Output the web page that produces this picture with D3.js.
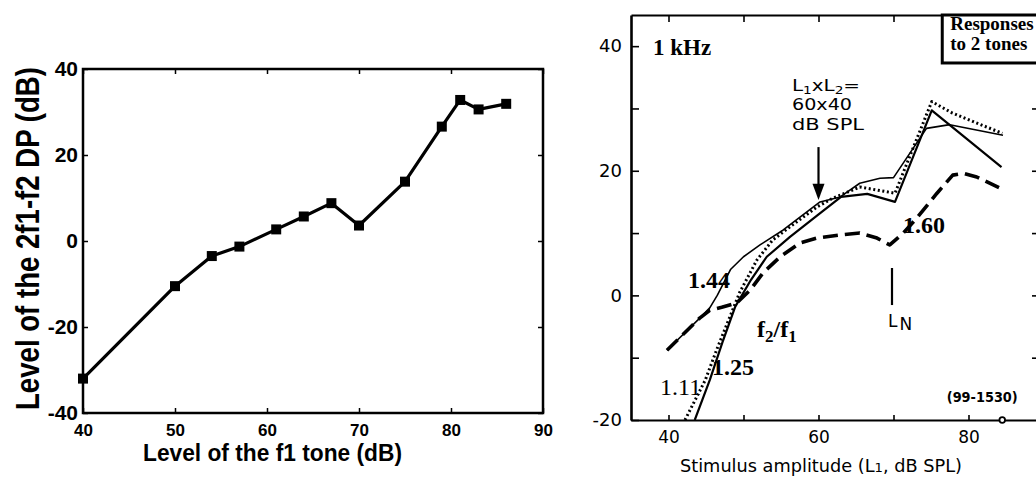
<!DOCTYPE html>
<html><head><meta charset="utf-8">
<script src="https://cdn.jsdelivr.net/npm/d3@7"></script>
<style>body{margin:0;background:#fff;} svg{display:block;}</style>
</head><body><svg id="c" width="1036" height="478"></svg>
<script>
// ---------- Left panel data ----------
const f1Level = [40, 50, 54, 57, 61, 64, 67, 70, 75, 79, 81, 83, 86];
const dpLevel = [-32, -10.5, -3.5, -1.3, 2.7, 5.7, 8.8, 3.6, 13.8, 26.6, 32.8, 30.6, 31.9];
const leftXTicks = [40, 50, 60, 70, 80, 90];
const leftYTicks = [-40, -20, 0, 20, 40];

// ---------- Right panel data (f2/f1 ratios) ----------
const r111X = [42.2, 44.9, 46.4, 48.2, 49.5, 51.8, 53.9, 56.2, 59.8, 61.9, 65.5, 70.2, 75.1, 77.8, 84.5];
const r111Y = [-20, -13.6, -8.8, -3.4, 0.5, 5.7, 8.9, 11.0, 14.2, 15.6, 17.4, 16.4, 31.1, 29.3, 26.0];
const r125X = [43.5, 45.5, 47.2, 48.9, 51.0, 53.1, 56.2, 59.8, 63.0, 66.5, 70.2, 75.1, 84.4];
const r125Y = [-20, -13.6, -7.5, -1.8, 2.5, 6.2, 9.4, 12.8, 15.8, 16.3, 15.0, 29.7, 20.6];
const r144X = [39.8, 44.2, 45.5, 46.5, 48.3, 50.0, 52.2, 55.3, 60.2, 62.9, 65.5, 68.2, 70.0, 74.4, 77.5, 84.6];
const r144Y = [-8.8, -3.6, -2.0, 0.0, 4.2, 6.2, 8.1, 10.5, 15.0, 15.8, 18.0, 18.8, 18.9, 26.8, 27.4, 25.7];
const r160X = [39.8, 44.2, 45.5, 47.1, 49.1, 50.9, 52.6, 54.9, 57.5, 59.8, 62.9, 65.5, 67.8, 69.5, 71.3, 73.1, 75.8, 77.9, 79.3, 81.1, 84.2];
const r160Y = [-8.8, -3.6, -2.4, -1.9, -1.2, 0.85, 3.6, 6.2, 8.4, 9.2, 9.7, 10.0, 9.2, 8.1, 10.0, 12.4, 16.4, 19.3, 19.6, 19.0, 17.2];
const rightXTicks = [40, 50, 60, 70, 80];
const rightXLabels = [40, 60, 80];
const rightYTicks = [-20, -10, 0, 10, 20, 30, 40];
const rightYLabels = [-20, 0, 20, 40];
const rightYRightTicks = [-10, 0, 10, 20, 30];

const svg = d3.select('#c');
const LS = "'Liberation Sans', Arial, sans-serif";
const DJ = "'DejaVu Sans', sans-serif";
const SER = "'Liberation Serif', 'Times New Roman', serif";
const plain = d => String(d); // hyphen-minus, as in the original

// ================= LEFT PANEL =================
const lx = d3.scaleLinear().domain([40, 90]).range([83, 543]);
const ly = d3.scaleLinear().domain([-40, 40]).range([413, 69]);
const L = svg.append('g');

function styleAxis(g, font, size, weight) {
  g.select('.domain').remove();
  g.selectAll('.tick line').attr('stroke', '#000').attr('stroke-width', 1.5);
  g.selectAll('.tick text').attr('fill', '#000').style('font-family', font)
    .style('font-size', size + 'px').style('font-weight', weight);
}

L.append('g').attr('transform', 'translate(0,413)')
  .call(d3.axisBottom(lx).tickValues(leftXTicks).tickSize(-5).tickPadding(11).tickFormat(plain))
  .call(g => styleAxis(g, LS, 17, 'bold'));
L.append('g').attr('transform', 'translate(0,69)')
  .call(d3.axisTop(lx).tickValues(leftXTicks).tickSize(-5).tickFormat(''))
  .call(g => styleAxis(g, LS, 17, 'bold'));
L.append('g').attr('transform', 'translate(83,0)')
  .call(d3.axisLeft(ly).tickValues(leftYTicks).tickSize(-5).tickPadding(5).tickFormat(plain))
  .call(g => styleAxis(g, LS, 21, 'bold'));
L.append('g').attr('transform', 'translate(543,0)')
  .call(d3.axisRight(ly).tickValues(leftYTicks).tickSize(-5).tickFormat(''))
  .call(g => styleAxis(g, LS, 17, 'bold'));
L.append('rect').attr('x', lx(40)).attr('y', ly(40))
  .attr('width', lx(90) - lx(40)).attr('height', ly(-40) - ly(40))
  .attr('fill', 'none').attr('stroke', '#000').attr('stroke-width', 2.5);

const leftPts = f1Level.map((x, i) => [x, dpLevel[i]]);
L.append('path').datum(leftPts)
  .attr('d', d3.line().x(d => lx(d[0])).y(d => ly(d[1])))
  .attr('fill', 'none').attr('stroke', '#000').attr('stroke-width', 3.2).attr('stroke-linejoin', 'round');
L.selectAll('rect.m').data(leftPts).join('rect').attr('class', 'm')
  .attr('x', d => lx(d[0]) - 5).attr('y', d => ly(d[1]) - 5)
  .attr('width', 10).attr('height', 10).attr('fill', '#000');

L.append('text').attr('x', 272.5).attr('y', 461).attr('text-anchor', 'middle')
  .style('font-family', LS).style('font-size', '23px').style('font-weight', 'bold')
  .attr('textLength', 259).attr('lengthAdjust', 'spacingAndGlyphs')
  .text('Level of the f1 tone (dB)');
L.append('text').attr('transform', 'translate(39,238.5) rotate(-90)').attr('text-anchor', 'middle')
  .style('font-family', LS).style('font-size', '33px').style('font-weight', 'bold')
  .attr('textLength', 343).attr('lengthAdjust', 'spacingAndGlyphs')
  .text('Level of the 2f1-f2 DP (dB)');

// ================= RIGHT PANEL =================
const rx = d3.scaleLinear().domain([35, 89.4]).range([631, 1039]);
const ry = d3.scaleLinear().domain([-20, 45]).range([420, 15]);
const R = svg.append('g');

R.append('clipPath').attr('id', 'rc').append('rect')
  .attr('x', rx(35)).attr('y', ry(45)).attr('width', rx(89.4) - rx(35)).attr('height', ry(-20) - ry(45));

function styleR(g, sw) {
  g.select('.domain').attr('stroke', '#000').attr('stroke-width', sw);
  g.selectAll('.tick line').attr('stroke', '#000').attr('stroke-width', 1.6);
  g.selectAll('.tick text').attr('fill', '#000').style('font-family', DJ).style('font-size', '17px');
}
R.append('g').attr('transform', `translate(0,${ry(-20)})`)
  .call(d3.axisBottom(rx).tickValues(rightXTicks).tickSize(-5).tickSizeOuter(0).tickPadding(11)
    .tickFormat(d => rightXLabels.includes(d) ? String(d) : ''))
  .call(g => styleR(g, 2));
R.append('g').attr('transform', `translate(0,${ry(45)})`)
  .call(d3.axisTop(rx).tickValues(rightXTicks).tickSize(-7).tickSizeOuter(0).tickFormat(''))
  .call(g => styleR(g, 2));
R.append('g').attr('transform', `translate(${rx(35)},0)`)
  .call(d3.axisLeft(ry).tickValues(rightYTicks).tickSize(-8).tickSizeOuter(0).tickPadding(9)
    .tickFormat(d => rightYLabels.includes(d) ? String(d) : ''))
  .call(g => { styleR(g, 2.6); g.selectAll('.tick text').style('font-size', '18px'); });
R.append('g').attr('transform', `translate(${rx(89.4)},0)`)
  .call(d3.axisRight(ry).tickValues(rightYRightTicks).tickSize(-7).tickSizeOuter(0).tickFormat(''))
  .call(g => styleR(g, 2));

const rline = d3.line().x(d => rx(d[0])).y(d => ry(d[1]));
const zipXY = (xs, ys) => xs.map((x, i) => [x, ys[i]]);
const curves = [
  { pts: zipXY(r144X, r144Y), w: 1.6, dash: null },
  { pts: zipXY(r125X, r125Y), w: 2.2, dash: null },
  { pts: zipXY(r111X, r111Y), w: 3, dash: '2 2.6' },
  { pts: zipXY(r160X, r160Y), w: 3.6, dash: '15 7' }
];
const cg = R.append('g').attr('clip-path', 'url(#rc)');
curves.forEach(c => {
  cg.append('path').datum(c.pts).attr('d', rline)
    .attr('fill', 'none').attr('stroke', '#000').attr('stroke-width', c.w)
    .attr('stroke-dasharray', c.dash).attr('stroke-linejoin', 'round');
});

// small marker at axis end
R.append('circle').attr('cx', rx(84.5)).attr('cy', ry(-20)).attr('r', 2.8)
  .attr('fill', '#fff').attr('stroke', '#000').attr('stroke-width', 1.8);

// Box "Responses to 2 tones"
const bx0 = 76.5, byTop = 45, byBot = 37.3;
R.append('rect').attr('x', rx(bx0)).attr('y', ry(byTop)).attr('width', 120)
  .attr('height', ry(byBot) - ry(byTop)).attr('fill', '#fff').attr('stroke', '#000').attr('stroke-width', 3);
R.append('text').attr('x', rx(bx0) + 8).attr('y', ry(byTop) + 15)
  .style('font-family', SER).style('font-size', '19px').style('font-weight', 'bold').text('Responses');
R.append('text').attr('x', rx(bx0) + 8).attr('y', ry(byTop) + 35)
  .style('font-family', SER).style('font-size', '19px').style('font-weight', 'bold').text('to 2 tones');

// 1 kHz
R.append('text').attr('x', rx(37.93)).attr('y', ry(38.6))
  .style('font-family', SER).style('font-size', '23px').style('font-weight', 'bold').text('1 kHz');

// L1xL2= annotation
const an = R.append('g').style('font-family', DJ).style('font-size', '16px');
const t1 = an.append('text').attr('x', rx(56.47)).attr('y', ry(32.8))
  .attr('textLength', 68).attr('lengthAdjust', 'spacingAndGlyphs');
t1.append('tspan').text('L');
t1.append('tspan').attr('dy', 3).style('font-size', '11px').text('1');
t1.append('tspan').attr('dy', -3).text('xL');
t1.append('tspan').attr('dy', 3).style('font-size', '11px').text('2');
t1.append('tspan').attr('dy', -3).text('=');
an.append('text').attr('x', rx(56.47)).attr('y', ry(29.7))
  .attr('textLength', 60).attr('lengthAdjust', 'spacingAndGlyphs').text('60x40');
an.append('text').attr('x', rx(56.47)).attr('y', ry(26.5))
  .attr('textLength', 72).attr('lengthAdjust', 'spacingAndGlyphs').text('dB SPL');

// Arrow to 60 dB
R.append('line').attr('x1', rx(60)).attr('x2', rx(60)).attr('y1', ry(23.8)).attr('y2', ry(17.5))
  .attr('stroke', '#000').attr('stroke-width', 2.2);
R.append('path').attr('d', `M${rx(60) - 6},${ry(17.9)} L${rx(60) + 6},${ry(17.9)} L${rx(60)},${ry(15.3)} Z`)
  .attr('fill', '#000');

// ratio labels
const ratioLabels = [
  { t: '1.44', x: 42.6, y: 1.2, w: 'bold' },
  { t: '1.11', x: 38.87, y: -16.0, w: 'normal' },
  { t: '1.25', x: 45.8, y: -12.8, w: 'bold' },
  { t: '1.60', x: 71.27, y: 10.0, w: 'bold' }
];
R.selectAll('text.rl').data(ratioLabels).join('text').attr('class', 'rl')
  .attr('x', d => rx(d.x)).attr('y', d => ry(d.y))
  .style('font-family', SER).style('font-size', '24px').style('font-weight', d => d.w).text(d => d.t);

const fr = R.append('text').attr('x', rx(51.8)).attr('y', ry(-6.7))
  .style('font-family', SER).style('font-size', '24px').style('font-weight', 'bold');
fr.append('tspan').text('f');
fr.append('tspan').attr('dy', 5).style('font-size', '17px').text('2');
fr.append('tspan').attr('dy', -5).text('/f');
fr.append('tspan').attr('dy', 5).style('font-size', '17px').text('1');

// L_N marker
R.append('line').attr('x1', rx(69.8)).attr('x2', rx(69.8)).attr('y1', ry(4.4)).attr('y2', ry(-1.55))
  .attr('stroke', '#000').attr('stroke-width', 2.2);
const ln = R.append('text').attr('x', rx(69.27)).attr('y', ry(-5.1)).style('font-family', DJ).style('font-size', '17px');
ln.append('tspan').text('L');
ln.append('tspan').attr('dx', 2).attr('dy', 3).text('N');

// id label
R.append('text').attr('x', rx(77.1)).attr('y', ry(-17.1))
  .style('font-family', DJ).style('font-size', '14px').style('font-weight', 'bold')
  .attr('textLength', 71).attr('lengthAdjust', 'spacingAndGlyphs').text('(99-1530)');

// x title
const xt = R.append('text').attr('x', 821).attr('y', 472).attr('text-anchor', 'middle')
  .style('font-family', DJ).style('font-size', '17.5px')
  .attr('textLength', 282).attr('lengthAdjust', 'spacingAndGlyphs');
xt.append('tspan').text('Stimulus amplitude (L');
xt.append('tspan').style('font-size', '13px').text('1');
xt.append('tspan').text(', dB SPL)');
</script></body></html>
